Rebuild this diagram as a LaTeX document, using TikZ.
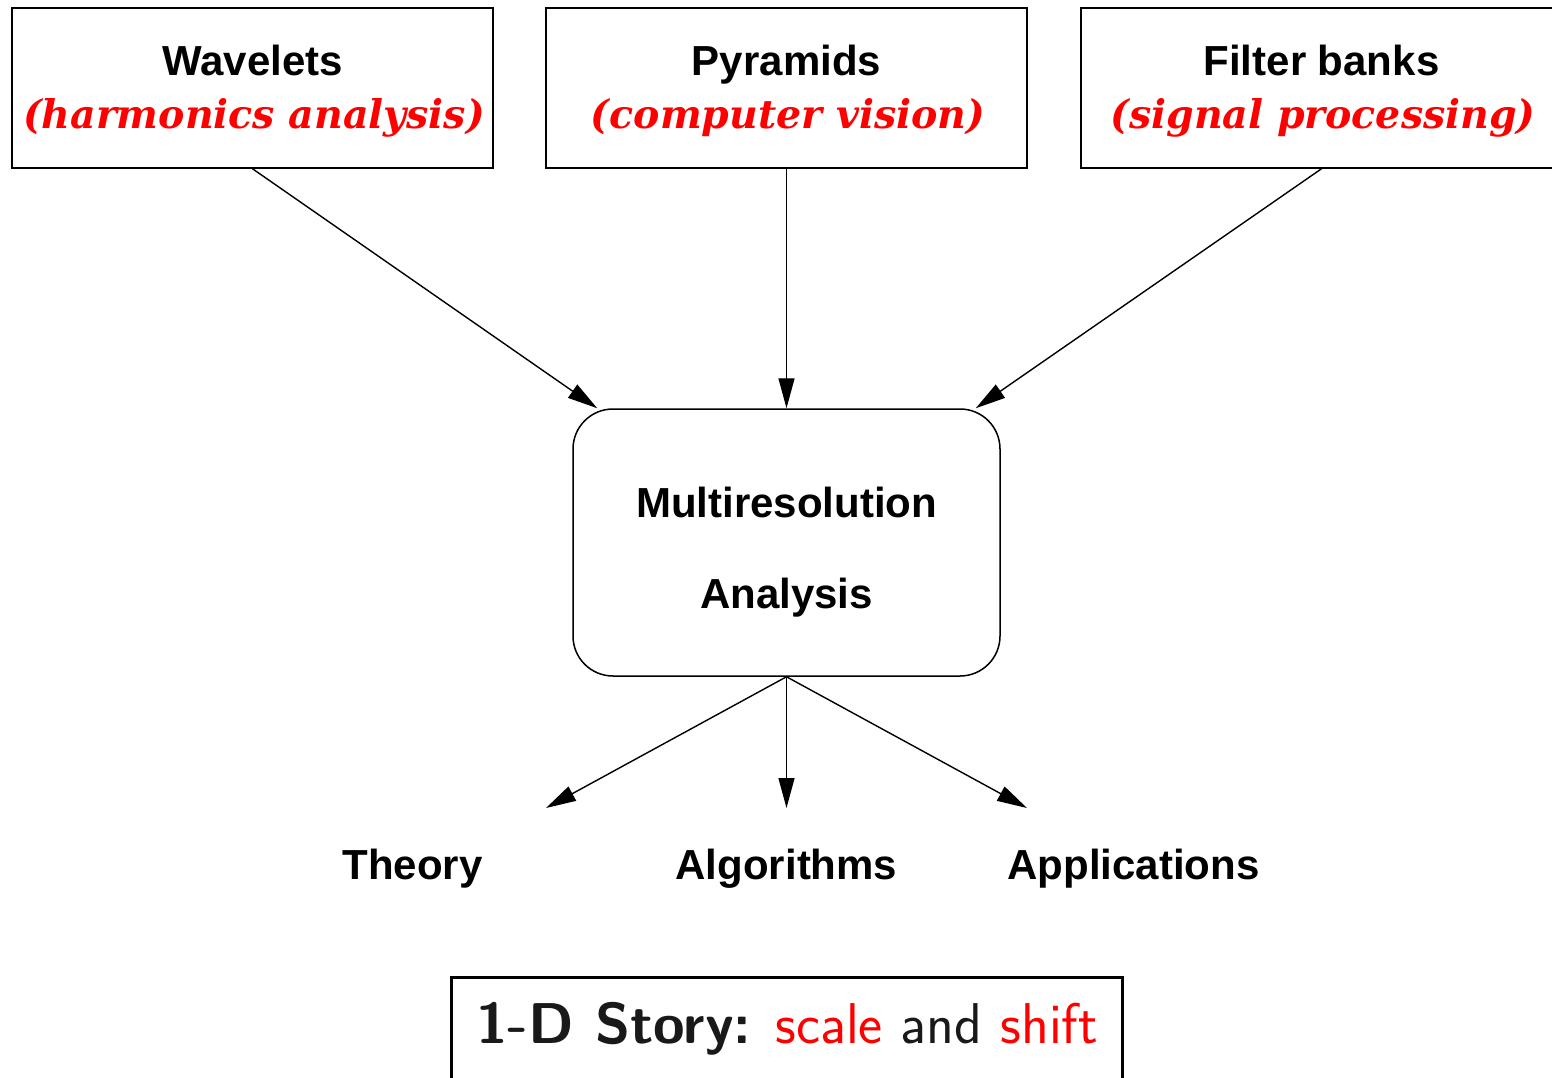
\documentclass[tikz,border=0pt]{standalone}
\usepackage{fontspec}
\setmainfont{Liberation Sans}
\newfontfamily\redfont{DejaVu Serif}
\usetikzlibrary{arrows.meta,calc}
\definecolor{myred}{RGB}{255,0,0}
\begin{document}
\begin{tikzpicture}[x=1pt,y=-1pt,
  topbox/.style={draw,line width=1.5pt,minimum width=481pt,minimum height=160pt,inner sep=0pt},
  mrabox/.style={draw,line width=1.5pt,rounded corners=40pt,minimum width=427pt,minimum height=267pt,inner sep=0pt},
  storybox/.style={draw,line width=3pt,minimum width=671pt,minimum height=150pt,inner sep=0pt},
  lbl/.style={anchor=base,inner sep=0pt,font=\fontsize{42}{50}\selectfont\bfseries},
  redlbl/.style={anchor=base,inner sep=0pt,text=myred,font=\fontsize{39.5}{46}\selectfont\redfont\bfseries\itshape},
  arr/.style={line width=1.4pt,-{Triangle[length=30pt,width=16pt]}}]
\useasboundingbox (0,0) rectangle (1552,1077);
% top boxes
\node[topbox] (w) at (252.5,88) {};
\node[topbox] (p) at (786.5,88) {};
\node[topbox] (f) at (1321.5,88) {};
\node[lbl] (wt) at (252.5,75) {Wavelets};
\node[redlbl] (wr) at (254,128) {(harmonics analysis)};
\node[lbl] (pt) at (786.5,75) {Pyramids};
\node[redlbl] (pr) at (788,128) {(computer vision)};
\node[lbl] (ft) at (1321.5,75) {Filter banks};
\node[redlbl] (fr) at (1323,128) {(signal processing)};
% central box
\node[mrabox] (m) at (786.5,542.5) {};
\node[lbl] (mt1) at (786.5,517) {Multiresolution};
\node[lbl] (mt2) at (786.5,608) {Analysis};
% arrows in
\draw[arr] (w.south) -- ($(m.north west)+(25,0)$);
\draw[arr] (p.south) -- (m.north);
\draw[arr] (f.south) -- ($(m.north east)+(-25,0)$);
% outputs
\coordinate (e1) at (546,808);
\coordinate (e2) at (786.5,808);
\coordinate (e3) at (1027,808);
\draw[arr] (m.south) -- (e1);
\draw[arr] (m.south) -- (e2);
\draw[arr] (m.south) -- (e3);
\node[lbl] (th) at (412.5,879) {Theory};
\node[lbl] (al) at (786.5,879) {Algorithms};
\node[lbl] (ap) at (1133.5,879) {Applications};
% story box
\node[storybox] (s) at (787,1052.5) {};
\node[anchor=base,inner sep=0pt,text=black!90,font=\fontsize{57.5}{68}\selectfont\sffamily] (st) at (787,1043)
  {\textbf{1-D Story:} \textcolor{myred}{scale} and \textcolor{myred}{shift}};
\end{tikzpicture}
\end{document}
